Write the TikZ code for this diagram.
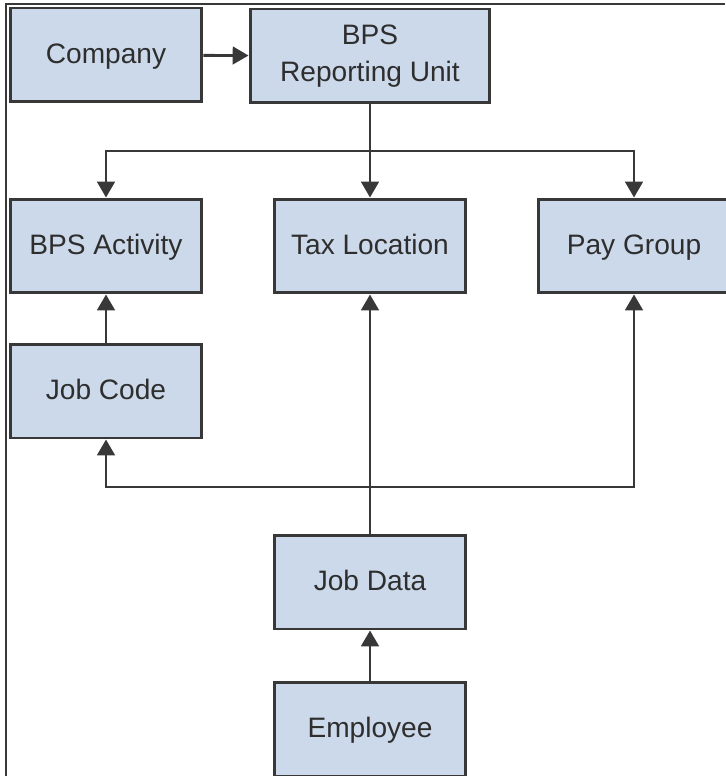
\documentclass[tikz,border=0pt]{standalone}
\usepackage{fontspec}
\setmainfont{Liberation Sans}
\usetikzlibrary{arrows.meta}
\definecolor{boxfill}{HTML}{CCD9EA}
\definecolor{boxline}{HTML}{383838}

\begin{document}
\begin{tikzpicture}[
  x=0.02cm,y=-0.02cm,
  font=\fontsize{16}{21}\selectfont,
  box/.style={draw=boxline,fill=boxfill,line width=1.7pt,text=black!82,
    minimum width=3.84cm,minimum height=1.88cm,inner sep=0pt,align=center},
  onebox/.style={box,text height=1.8ex,text depth=0pt},
  wire/.style={draw=boxline,line width=1.6pt},
  link/.style={wire,-{Triangle[width=10pt,length=9pt]}}
]
\useasboundingbox (0,0) rectangle (725,776);
% frame
\draw[boxline,line width=0.8pt] (725,4) -- (6,4) -- (6,776);

% top row
\node[onebox] (company) at (106,55) {Company};
\node[box,minimum width=4.8cm] (unit) at (370,56) {BPS\\Reporting Unit};

% middle row
\node[onebox] (activity) at (106,246) {BPS Activity};
\node[onebox] (taxloc) at (370,246) {Tax Location};
\node[onebox] (paygroup) at (634,246) {Pay Group};
\node[onebox] (jobcode) at (106,391) {Job Code};

% bottom column
\node[onebox] (jobdata) at (370,582) {Job Data};
\node[onebox] (employee) at (370,729) {Employee};

\coordinate (top bus) at (370,151);
\coordinate (low bus) at (370,487);

\draw[link] (company) -- (unit);
\draw[link] (unit) -- (taxloc);
\draw[link] (top bus) -| (activity);
\draw[link] (top bus) -| (paygroup);
\draw[link] (jobcode) -- (activity);

\draw[link] (jobdata) -- (taxloc);
\draw[link] (low bus) -| (jobcode);
\draw[link] (low bus) -| (paygroup);
\draw[link] (employee) -- (jobdata);
\end{tikzpicture}
\end{document}
